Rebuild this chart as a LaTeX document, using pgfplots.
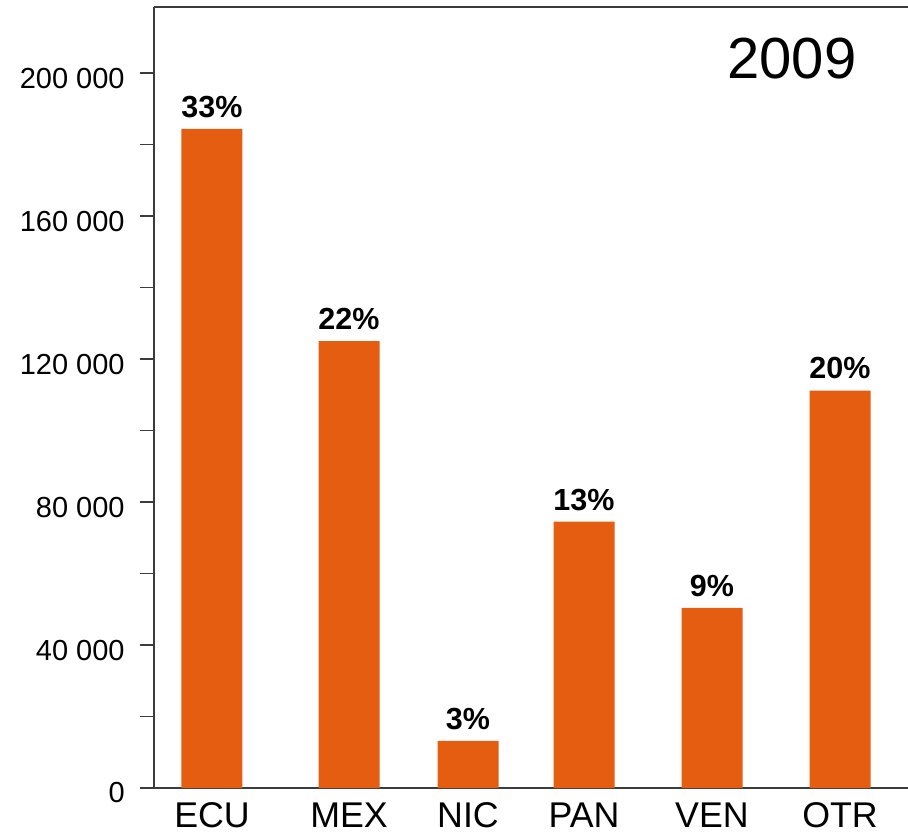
\documentclass[border=0pt]{standalone}
\usepackage{pgfplots}
\pgfplotsset{compat=1.18}
\usepackage{fontspec}
\setmainfont{Liberation Sans}
\definecolor{barorange}{RGB}{228,93,17}
\definecolor{axgray}{RGB}{60,60,60}
\begin{document}
\begin{tikzpicture}
\begin{axis}[
  name=main,
  scale only axis,
  width=301.6pt, height=312.4pt,
  xmin=154, xmax=908,
  ymin=0, ymax=218500,
  axis x line*=bottom,
  axis y line*=left,
  axis line style={axgray, line width=0.9pt},
  ytick={0,40000,80000,120000,160000,200000},
  yticklabels={0,40 000,80 000,120 000,160 000,200 000},
  minor ytick={20000,60000,100000,140000,180000},
  tick align=outside,
  major tick length=5.6pt, minor tick length=5.6pt,
  tick style={axgray, line width=0.7pt},
  xtick={212,349,468,584,712,840},
  xticklabels={ECU,MEX,NIC,PAN,VEN,OTR},
  x tick style={draw=none},
  yticklabel style={font=\fontsize{11.6}{14}\selectfont, black, xshift=-2.6pt, yshift=-2pt},
  xticklabel style={font=\fontsize{14.3}{17}\selectfont, black, yshift=0.7pt, inner sep=0.5pt, text height=10.3pt, text depth=0pt},
  scaled y ticks=false,
  clip=false,
  nodes near coords,
  point meta=explicit symbolic,
  every node near coord/.append style={font=\fontsize{12.2}{14}\selectfont\bfseries, black, yshift=1pt},
]
\addplot[ybar, bar width=61, fill=barorange, draw=none] table[meta=lab] {
x y lab
212 184400 33\%
349 125000 22\%
468 13200 3\%
584 74500 13\%
712 50400 9\%
840 111200 20\%
};
\draw[axgray, line width=0.9pt] (rel axis cs:0,1) -- (rel axis cs:1,1);
\node[font=\fontsize{23.2}{27}\selectfont] at (axis cs:792,204000) {2009};
\end{axis}
\pgfresetboundingbox
\path[use as bounding box] ([xshift=-61.6pt, yshift=-19.2pt]main.south west) rectangle ([yshift=2.8pt]main.north east);
\end{tikzpicture}
\end{document}
